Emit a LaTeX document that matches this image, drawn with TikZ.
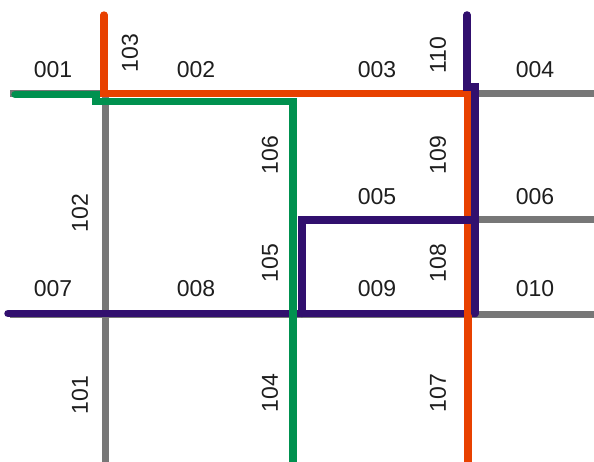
\documentclass[tikz,border=0pt]{standalone}
\usepackage{fontspec}
\setmainfont{Liberation Sans}
\usetikzlibrary{positioning}
\definecolor{routered}{HTML}{E84100}
\definecolor{routegreen}{HTML}{00914F}
\definecolor{routepurple}{HTML}{310F6E}
\definecolor{streetgrey}{HTML}{777777}
\definecolor{labelink}{HTML}{1E1E1E}

\begin{document}
\begin{tikzpicture}[
   x=1pt, y=-1pt,
   font=\fontsize{23}{26}\selectfont,
   street/.style={draw=streetgrey, line width=7pt},
   redroute/.style={draw=routered, line width=7.3pt, line cap=round},
   greenroute/.style={draw=routegreen, line width=7.3pt, line cap=round},
   purpleroute/.style={draw=routepurple, line width=7.5pt, line cap=round},
   seg/.style={text=labelink, inner sep=0pt},
   vseg/.style={seg, rotate=90},
]
  \useasboundingbox (0,0) rectangle (594,462);

  % street grid
  \coordinate (h1w) at (10,94);   \coordinate (h1e) at (594,94);
  \coordinate (h2w) at (302,220); \coordinate (h2e) at (594,220);
  \coordinate (h3w) at (10,314);  \coordinate (h3e) at (594,314);
  \coordinate (v1n) at (105,94);  \coordinate (v1s) at (105,462);
  \draw[street] (h1w) -- (h1e);
  \draw[street] (h2w) -- (h2e);
  \draw[street] (h3w) -- (h3e);
  \draw[street] (v1n) -- (v1s);

  % purple route, lower street (under the red one)
  \coordinate (p0) at (467,15);
  \coordinate (p1) at (467,87);
  \coordinate (p2) at (475,87);
  \coordinate (p3) at (475,220);
  \coordinate (p4) at (302,220);
  \coordinate (p5) at (302,313.5);
  \coordinate (p6) at (475,313.5);
  \coordinate (p7) at (8,313.5);
  \draw[purpleroute] (p7) -- (p6);

  % green route
  \coordinate (g0) at (15,94.5);
  \coordinate (g1) at (96,94.5);
  \coordinate (g2) at (96,101.5);
  \coordinate (g3) at (293,101.5);
  \coordinate (g4) at (293,470);
  \draw[greenroute] (g0) -- (g1) -- (g2) -- (g3) -- (g4);

  % red route
  \coordinate (r0) at (104,15);
  \coordinate (r1) at (104,93.5);
  \coordinate (r2) at (468,93.5);
  \coordinate (r3) at (468,470);
  \draw[redroute] (r0) -- (r1) -- (r2) -- (r3);

  % purple route, the rest
  \draw[purpleroute] (p0) -- (p1) -- (p2) -- (p6);
  \draw[purpleroute] (p3) -- (p4) -- (p5);

  % segment labels
  \node[seg] (s001) at (53,70)  {001};
  \node[seg] (s002) at (196,70) {002};
  \node[seg] (s003) at (377,70) {003};
  \node[seg] (s004) at (535,70) {004};
  \node[seg] (s005) at (377,197) {005};
  \node[seg] (s006) at (535,197) {006};
  \node[seg] (s007) at (53,289)  {007};
  \node[seg] (s008) at (196,289) {008};
  \node[seg] (s009) at (377,289) {009};
  \node[seg] (s010) at (535,289) {010};

  \node[vseg] (s101) at (80,395)  {101};
  \node[vseg] (s102) at (80,213)  {102};
  \node[vseg] (s103) at (130,53)  {103};
  \node[vseg] (s104) at (270,393) {104};
  \node[vseg] (s105) at (270,263) {105};
  \node[vseg] (s106) at (270,155) {106};
  \node[vseg] (s107) at (438,393) {107};
  \node[vseg] (s108) at (438,263) {108};
  \node[vseg] (s109) at (438,155) {109};
  \node[vseg] (s110) at (438,55)  {110};
\end{tikzpicture}
\end{document}
